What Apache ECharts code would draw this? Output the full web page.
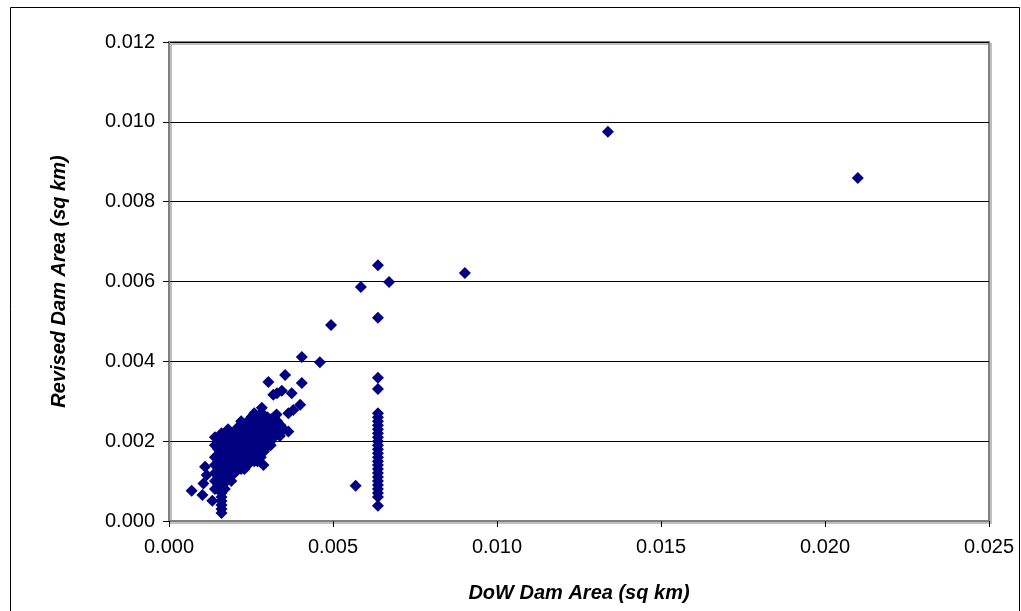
<!DOCTYPE html>
<html>
<head>
<meta charset="UTF-8">
<title>Dam area scatter</title>
<script type="text/javascript" src="https://cdn.jsdelivr.net/npm/echarts@6/dist/echarts.min.js"></script>
<style>
  body{margin:0;background:#fff}
</style>
</head>
<body>
<div id="main" style="width:1021px;height:611px"></div>
<script type="text/javascript">
// scattered points along the diagonal and outliers [DoW area, revised area]
var spreadPoints = [
  [0.01338,0.00975],[0.0210,0.00859],[0.00902,0.00621],[0.00637,0.00641],
  [0.00585,0.00586],[0.00671,0.00599],[0.00494,0.00491],[0.00405,0.00411],
  [0.0046,0.00398],[0.00569,0.00088],[0.00637,0.00509],
  [0.00303,0.00348],[0.00354,0.00366],[0.00405,0.00346],[0.00344,0.00326],
  [0.00318,0.00316],[0.00374,0.0032],[0.00329,0.0032],[0.00283,0.00284],
  [0.00328,0.00267],[0.004,0.00291],[0.00379,0.00278],[0.00364,0.0027],
  [0.00252,0.00261],[0.00364,0.00224],[0.00338,0.00213],[0.00216,0.00224],
  [0.00191,0.00215],[0.0015,0.00182],[0.00288,0.0014],[0.00267,0.00153],
  [0.0011,0.00136],[0.00115,0.00115],[0.00105,0.00094],[0.00069,0.00076],
  [0.00102,0.00065],[0.00132,0.00051]
];

// vertical stack at DoW area 0.00637
var columnX1 = 0.00637;
var columnY1 = [0.00359,0.00331,0.0027,0.0026,0.0025,0.0024,0.0023,0.0022,0.0021,
  0.002,0.0019,0.0018,0.0017,0.0016,0.0015,0.0014,0.0013,0.0012,0.0011,0.001,
  0.0009,0.0008,0.0007,0.0006,0.00038];

// vertical stack at DoW area 0.0016
var columnX2 = 0.0016;
var columnY2 = [0.0002,0.0003,0.0004,0.0005,0.0006,0.0007,0.0008,0.0009,0.001,
  0.0011,0.0012,0.0013,0.0014,0.0015,0.0016,0.0017,0.0018,0.0019,0.002,0.0021,0.0022];

// dense cluster
var clusterPoints = [
  [0.0026,0.0027],[0.0028,0.0027],[0.003,0.0026],[0.0032,0.0026],
  [0.0022,0.0025],[0.0024,0.0025],[0.0026,0.0024],[0.0028,0.0025],[0.003,0.0024],[0.0032,0.0025],[0.0034,0.0024],
  [0.0018,0.0023],[0.002,0.0022],[0.0022,0.0023],[0.0024,0.0022],[0.0026,0.0023],[0.0028,0.0022],[0.003,0.0023],[0.0032,0.0022],[0.0035,0.0023],
  [0.0014,0.0021],[0.0018,0.002],[0.002,0.0021],[0.0022,0.002],[0.0024,0.0021],[0.0026,0.002],[0.0028,0.0021],[0.003,0.002],[0.0032,0.0021],
  [0.0014,0.0019],[0.0017,0.0018],[0.0019,0.0019],[0.0021,0.0018],[0.0023,0.0019],[0.0025,0.0018],[0.0027,0.0019],[0.0029,0.0018],[0.0031,0.0019],
  [0.0014,0.0016],[0.0018,0.0017],[0.002,0.0016],[0.0022,0.0017],[0.0024,0.0016],[0.0026,0.0017],[0.0028,0.0016],
  [0.0014,0.0014],[0.0018,0.0015],[0.002,0.0014],[0.0022,0.0015],[0.0024,0.0014],[0.0026,0.0015],
  [0.0014,0.0012],[0.0018,0.0013],[0.002,0.0012],[0.0022,0.0013],
  [0.0014,0.001],[0.0018,0.0011],[0.0019,0.001],
  [0.0014,0.0008],[0.0017,0.0008]
];

// in-between points that close the gaps of the cluster
var clusterFill = [
  [0.0027,0.00255],[0.0029,0.00265],[0.0031,0.00255],[0.0033,0.0025],
  [0.0021,0.00235],[0.0023,0.0024],[0.0025,0.00235],[0.0027,0.0024],[0.0029,0.00235],[0.0031,0.0024],[0.0033,0.00235],
  [0.0017,0.00215],[0.0019,0.0021],[0.0021,0.00215],[0.0023,0.0021],[0.0025,0.00215],[0.0027,0.0021],[0.0029,0.00215],[0.0031,0.0021],[0.0033,0.0022],
  [0.0015,0.002],[0.0017,0.00195],[0.0019,0.002],[0.0021,0.00195],[0.0023,0.002],[0.0025,0.00195],[0.0027,0.002],[0.0029,0.00195],[0.0031,0.002],
  [0.0015,0.0018],[0.0017,0.00175],[0.0019,0.0017],[0.0021,0.00175],[0.0023,0.0017],[0.0025,0.00175],[0.0027,0.0017],[0.0029,0.00175],
  [0.0015,0.0015],[0.0017,0.00155],[0.0019,0.0015],[0.0021,0.00155],[0.0023,0.0015],[0.0025,0.00155],[0.0027,0.0015],
  [0.0015,0.0013],[0.0017,0.00135],[0.0019,0.0013],[0.0021,0.00135],[0.0023,0.0013],
  [0.0015,0.0011],[0.0017,0.00115],[0.0019,0.0012],[0.0015,0.0009],[0.0017,0.00095]
];

var yTicks = [0, 0.002, 0.004, 0.006, 0.008, 0.010, 0.012];
var xTicks = [0, 0.005, 0.010, 0.015, 0.020, 0.025];

var allPoints = spreadPoints.concat(clusterPoints).concat(clusterFill)
  .concat(columnY1.map(function(y){ return [columnX1, y]; }))
  .concat(columnY2.map(function(y){ return [columnX2, y]; }));

var myEcharts = echarts.init(document.getElementById('main'));
var labelFont = {fontFamily:'Liberation Sans, Arial', fontSize:20, color:'#000'};
var option = {
  animation: false,
  graphic: [{
    type:'rect', left:8, top:5,
    shape:{width:1009, height:640},
    style:{fill:'none', stroke:'#000', lineWidth:1}
  }],
  grid: {
    left:169, top:42, right:32, bottom:90,
    show:true, borderColor:'#808080', borderWidth:2,
    shadowColor:'rgba(0,0,0,0.25)', shadowOffsetX:2, shadowOffsetY:2
  },
  xAxis: {
    type:'value', min:xTicks[0], max:xTicks[xTicks.length-1], interval:0.005,
    name:'DoW Dam Area (sq km)', nameLocation:'middle', nameGap:62,
    nameTextStyle:{fontFamily:'Liberation Sans, Arial', fontSize:20, fontWeight:'bold', fontStyle:'italic', color:'#000'},
    axisLine:{lineStyle:{color:'#808080', width:2}},
    axisTick:{inside:false, length:6, lineStyle:{color:'#000'}},
    axisLabel:Object.assign({margin:16, formatter:function(v){return v.toFixed(3);}}, labelFont),
    splitLine:{show:false}
  },
  yAxis: {
    type:'value', min:yTicks[0], max:yTicks[yTicks.length-1], interval:0.002,
    name:'Revised Dam Area (sq km)', nameLocation:'middle', nameGap:100,
    nameTextStyle:{fontFamily:'Liberation Sans, Arial', fontSize:20, fontWeight:'bold', fontStyle:'italic', color:'#000'},
    axisLine:{lineStyle:{color:'#808080', width:2}},
    axisTick:{inside:false, length:6, lineStyle:{color:'#000'}},
    axisLabel:Object.assign({margin:14, formatter:function(v){return v.toFixed(3);}}, labelFont),
    splitLine:{show:true, lineStyle:{color:'#000', width:1}}
  },
  series: [{
    type:'scatter',
    symbol:'diamond',
    symbolSize:[12,12],
    itemStyle:{color:'#000080', opacity:1},
    data: allPoints
  }]
};
myEcharts.setOption(option);
</script>
</body>
</html>
